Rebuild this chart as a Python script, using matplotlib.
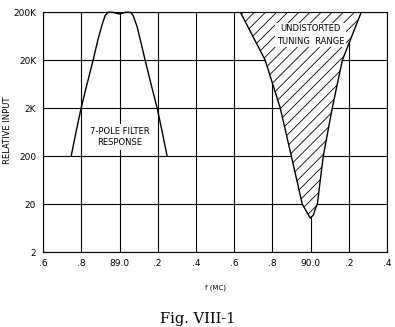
import matplotlib.pyplot as plt

# filter response (7-pole), f in MC, relative input
filt_f = [88.747, 88.773, 88.799, 88.830, 88.862, 88.888, 88.909, 88.925, 88.940,
          88.966, 89.000, 89.031, 89.058, 89.071, 89.092, 89.113, 89.134, 89.165,
          89.197, 89.223, 89.249]
filt_v = [200, 650, 2000, 6300, 20000, 55000, 110000, 170000, 198000,
          198000, 182000, 198000, 198000, 170000, 100000, 45000, 20000, 6300,
          2000, 650, 200]

# undistorted tuning range boundaries
left_f = [89.632, 89.762, 89.841, 89.899, 89.956, 89.977, 89.998]
left_v = [200000, 20000, 2000, 200, 20, 14.3, 10.2]
right_f = [90.014, 90.024, 90.035, 90.066, 90.113, 90.166, 90.265]
right_v = [11.8, 15.7, 20, 200, 2000, 20000, 200000]

xticks = [88.6, 88.8, 89.0, 89.2, 89.4, 89.6, 89.8, 90.0, 90.2, 90.4]
xlabels = ['.6', '.8', '89.0', '.2', '.4', '.6', '.8', '90.0', '.2', '.4']
yticks = [2, 20, 200, 2000, 20000, 200000]
ylabels = ['2', '20', '200', '2K', '20K', '200K']

plt.rcParams['hatch.linewidth'] = 0.6

fig = plt.figure(figsize=(3.95, 3.27), dpi=100)
ax = fig.add_axes([0.109, 0.229, 0.871, 0.734])

ax.plot(filt_f, filt_v, color='black', lw=1.0, clip_on=False, zorder=3)

ax.fill(left_f + right_f, left_v + right_v, facecolor='white', edgecolor='black',
        hatch='///', lw=1.0, zorder=2)

ax.set_yscale('log')
ax.set_xlim(88.6, 90.4)
ax.set_ylim(2, 200000)
ax.set_xticks(xticks)
ax.set_xticklabels(xlabels)
ax.set_yticks(yticks)
ax.set_yticklabels(ylabels)
ax.minorticks_off()
ax.tick_params(length=0, labelsize=6.5, pad=5)
ax.grid(True, color='black', lw=0.8)
ax.set_axisbelow(True)
for s in ax.spines.values():
    s.set_linewidth(0.8)

ax.text(89.0, 500, '7-POLE FILTER\nRESPONSE', ha='center', va='center',
        fontsize=6, linespacing=1.3, zorder=4,
        bbox=dict(facecolor='white', edgecolor='none', pad=2))
ax.text(90.0, 66000, 'UNDISTORTED\nTUNING  RANGE', ha='center', va='center',
        fontsize=6, linespacing=1.5, zorder=4,
        bbox=dict(facecolor='white', edgecolor='none', pad=1))

fig.text(0.02, 0.6, 'RELATIVE INPUT', rotation=90, ha='center', va='center',
         fontsize=6)
ax.set_xlabel('f (MC)', fontsize=5, labelpad=12)
fig.text(0.5, 0.004, 'Fig. VIII-1', ha='center', va='bottom',
         fontsize=10.5, family='DejaVu Serif')

fig.savefig('out.png', dpi=100)
